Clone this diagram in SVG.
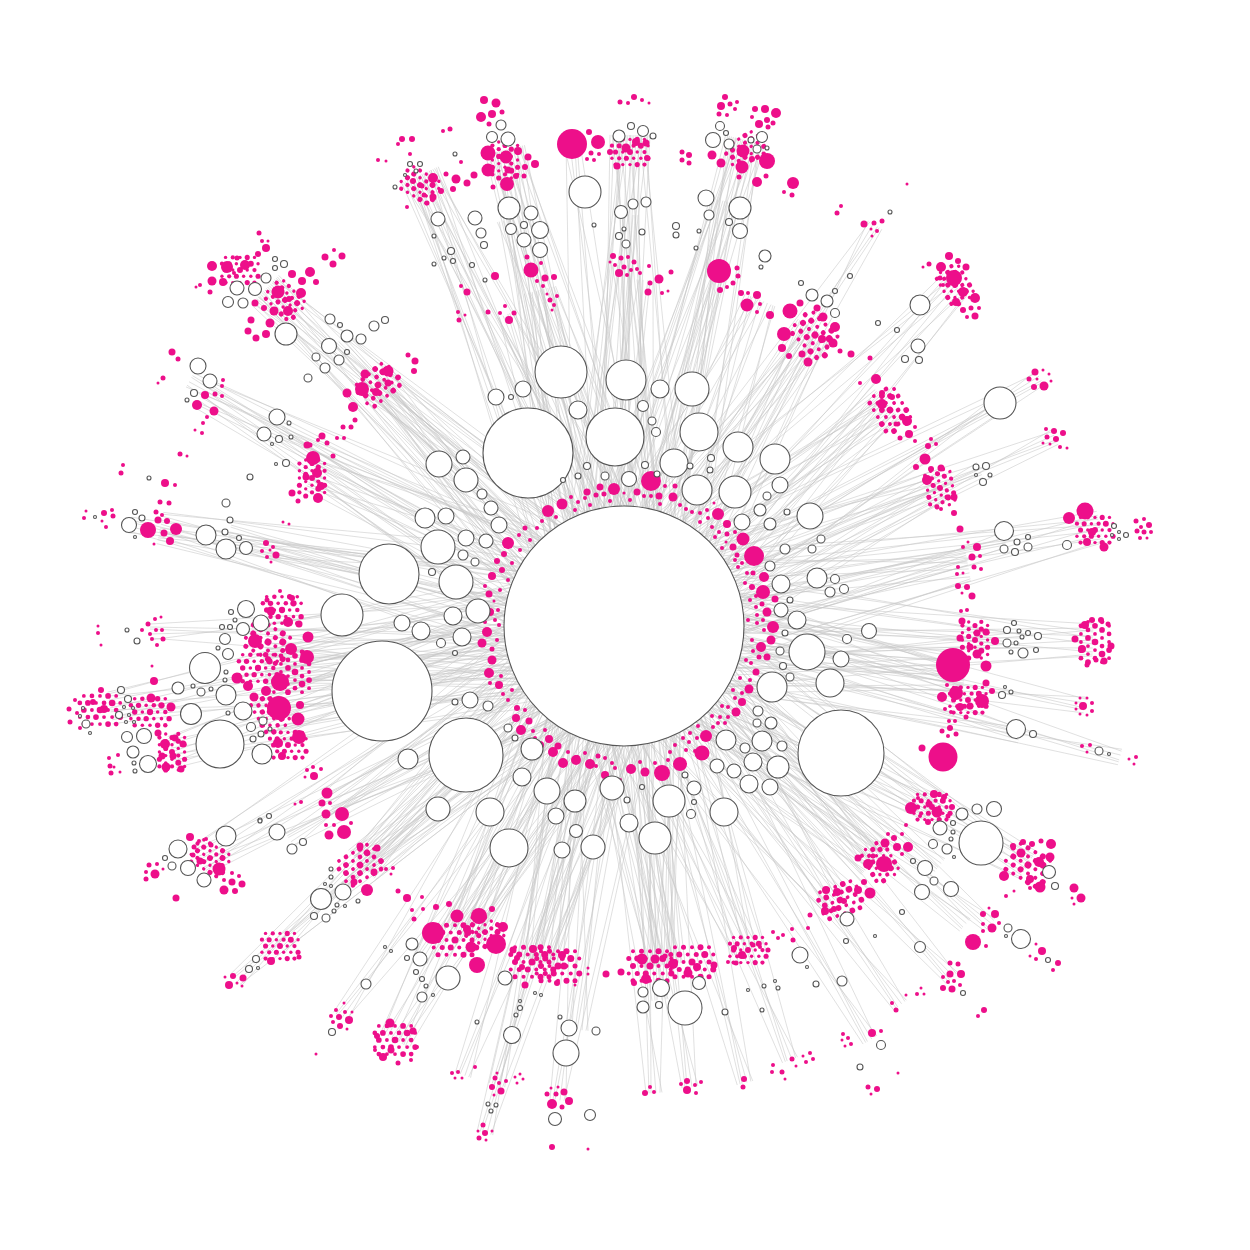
<svg xmlns="http://www.w3.org/2000/svg" xmlns:xlink="http://www.w3.org/1999/xlink" width="1250" height="1250" viewBox="0 0 1250 1250">
<style>
.p circle,.p{fill:#ED0F8A}
.w circle,.w{fill:#fff;stroke:#555;stroke-width:1.1}
.e{stroke:#b4b4b4;stroke-width:0.55;fill:none;opacity:0.75}
</style>
<defs>
<path id="f" vector-effect="non-scaling-stroke" d="M0,-16L100,-55M0,-12L100,18M0,-8L100,-20M0,-4L100,45M0,0L100,-38M0,4L100,5M0,8L100,60M0,12L100,-8M0,16L100,30M0,-14L100,-70M0,10L100,-45M0,2L100,70"/>
<path id="f2" vector-effect="non-scaling-stroke" d="M0,-18L100,35M0,-10L100,-62M0,-6L100,12M0,-2L100,-28M0,6L100,52M0,14L100,-15M0,18L100,-48M0,-20L100,0M0,20L100,22M0,-12L100,65M0,0L100,-5M0,9L100,38"/>
<path id="g" vector-effect="non-scaling-stroke" d="M0,-8L100,-30M0,-3L100,25M0,2L100,-5M0,6L100,50M0,-5L100,10M0,8L100,-50"/>
<g id="h" class="p">
<circle cx="-17" cy="-14.8" r="2"/><circle cx="-8.5" cy="-14.8" r="2.5"/><circle cx="0" cy="-14.8" r="2"/><circle cx="8.5" cy="-14.8" r="3"/><circle cx="17" cy="-14.8" r="2"/>
<circle cx="-21.25" cy="-7.4" r="2.5"/><circle cx="-12.75" cy="-7.4" r="3"/><circle cx="-4.25" cy="-7.4" r="2"/><circle cx="4.25" cy="-7.4" r="2.5"/><circle cx="12.75" cy="-7.4" r="3.5"/><circle cx="21.25" cy="-7.4" r="2"/>
<circle cx="-17" cy="0" r="3"/><circle cx="-8.5" cy="0" r="2"/><circle cx="0" cy="0" r="3.5"/><circle cx="8.5" cy="0" r="2"/><circle cx="17" cy="0" r="2.5"/>
<circle cx="-21.25" cy="7.4" r="2"/><circle cx="-12.75" cy="7.4" r="2.5"/><circle cx="-4.25" cy="7.4" r="3"/><circle cx="4.25" cy="7.4" r="2"/><circle cx="12.75" cy="7.4" r="2"/><circle cx="21.25" cy="7.4" r="3"/>
<circle cx="-17" cy="14.8" r="2.5"/><circle cx="-8.5" cy="14.8" r="2"/><circle cx="0" cy="14.8" r="2"/><circle cx="8.5" cy="14.8" r="3"/><circle cx="17" cy="14.8" r="2.5"/>
</g>
</defs>
<g id="connectors" class="e">
<use href="#f" transform="translate(505,150) rotate(75.96) scale(4.91,1)"/><use href="#f2" transform="translate(505,150) rotate(75.96) scale(4.91,1)"/>
<use href="#f" transform="translate(630,135) rotate(90.7) scale(4.91,1)"/><use href="#f2" transform="translate(630,135) rotate(90.7) scale(4.91,1)"/>
<use href="#f" transform="translate(745,140) rotate(104) scale(5.01,1)"/><use href="#f2" transform="translate(745,140) rotate(104) scale(5.01,1)"/>
<use href="#f" transform="translate(420,175) rotate(65.7) scale(4.95,1)"/><use href="#f2" transform="translate(420,175) rotate(65.7) scale(4.95,1)"/>
<use href="#f" transform="translate(265,290) rotate(43.1) scale(4.92,1)"/><use href="#f2" transform="translate(265,290) rotate(43.1) scale(4.92,1)"/>
<use href="#f" transform="translate(378,385) rotate(44.4) scale(3.44,1)"/><use href="#f2" transform="translate(378,385) rotate(44.4) scale(3.44,1)"/>
<use href="#f" transform="translate(312,475) rotate(25.8) scale(3.47,1)"/>
<use href="#f" transform="translate(205,395) rotate(28.9) scale(4.78,1)"/>
<use href="#f" transform="translate(815,330) rotate(122.8) scale(3.52,1)"/><use href="#f2" transform="translate(815,330) rotate(122.8) scale(3.52,1)"/>
<use href="#f" transform="translate(888,405) rotate(140.1) scale(3.44,1)"/><use href="#f2" transform="translate(888,405) rotate(140.1) scale(3.44,1)"/>
<use href="#f" transform="translate(955,285) rotate(134.1) scale(4.75,1)"/>
<use href="#f" transform="translate(940,485) rotate(156) scale(3.46,1)"/>
<use href="#g" transform="translate(1040,378) rotate(149.2) scale(4.84,1)"/>
<use href="#g" transform="translate(1055,437) rotate(156.3) scale(4.71,1)"/>
<use href="#f" transform="translate(1100,527) rotate(168.3) scale(4.86,1)"/>
<use href="#f" transform="translate(968,565) rotate(169.9) scale(3.49,1)"/>
<use href="#f" transform="translate(1093,640) rotate(-178.3) scale(4.69,1)"/>
<use href="#f" transform="translate(965,675) rotate(-171.8) scale(3.45,1)"/><use href="#f2" transform="translate(965,675) rotate(-171.8) scale(3.45,1)"/>
<use href="#g" transform="translate(1085,705) rotate(-170.3) scale(4.68,1)"/>
<use href="#f" transform="translate(1028,865) rotate(-149.4) scale(4.69,1)"/>
<use href="#f" transform="translate(932,806) rotate(-149.7) scale(3.57,1)"/>
<use href="#f" transform="translate(875,860) rotate(-137) scale(3.43,1)"/><use href="#f2" transform="translate(875,860) rotate(-137) scale(3.43,1)"/>
<use href="#f" transform="translate(835,900) rotate(-127.6) scale(3.46,1)"/>
<use href="#g" transform="translate(990,925) rotate(-140.8) scale(4.73,1)"/>
<use href="#g" transform="translate(952,978) rotate(-133) scale(4.81,1)"/>
<use href="#f" transform="translate(748,950) rotate(-110.9) scale(3.47,1)"/>
<use href="#f" transform="translate(665,965) rotate(-96.9) scale(3.41,1)"/><use href="#f2" transform="translate(665,965) rotate(-96.9) scale(3.41,1)"/>
<use href="#f" transform="translate(540,962) rotate(-76) scale(3.46,1)"/><use href="#f2" transform="translate(540,962) rotate(-76) scale(3.46,1)"/>
<use href="#f" transform="translate(465,935) rotate(-62.8) scale(3.48,1)"/><use href="#f2" transform="translate(465,935) rotate(-62.8) scale(3.48,1)"/>
<use href="#f" transform="translate(362,865) rotate(-42.4) scale(3.55,1)"/><use href="#f2" transform="translate(362,865) rotate(-42.4) scale(3.55,1)"/>
<use href="#f" transform="translate(330,805) rotate(-31.3) scale(3.44,1)"/>
<use href="#g" transform="translate(280,946) rotate(-42.9) scale(4.7,1)"/>
<use href="#f" transform="translate(395,1040) rotate(-61.05) scale(4.73,1)"/>
<use href="#g" transform="translate(340,1017) rotate(-54) scale(4.83,1)"/>
<use href="#g" transform="translate(236,980) rotate(-42.4) scale(5.25,1)"/>
<use href="#f" transform="translate(200,860) rotate(-28.9) scale(4.84,1)"/>
<use href="#f" transform="translate(265,675) rotate(-7.8) scale(3.62,1)"/><use href="#f2" transform="translate(265,675) rotate(-7.8) scale(3.62,1)"/>
<use href="#f" transform="translate(265,640) rotate(-2.2) scale(3.59,1)"/><use href="#f2" transform="translate(275,720) rotate(-15.1) scale(3.61,1)"/>
<use href="#f" transform="translate(172,752) rotate(-15.6) scale(4.69,1)"/>
<use href="#f" transform="translate(110,708) rotate(-9.1) scale(5.2,1)"/>
<use href="#g" transform="translate(150,632) rotate(-0.7) scale(4.74,1)"/>
<use href="#f" transform="translate(160,528) rotate(11.9) scale(4.74,1)"/>
<use href="#g" transform="translate(270,550) rotate(12.1) scale(3.62,1)"/>
<use href="#g" transform="translate(497,1085) rotate(-74.5) scale(4.76,1)"/>
<use href="#g" transform="translate(558,1100) rotate(-82.1) scale(4.79,1)"/>
<use href="#g" transform="translate(485,1133) rotate(-74.7) scale(5.26,1)"/>
<use href="#g" transform="translate(690,1087) rotate(-98.1) scale(4.66,1)"/>
<use href="#g" transform="translate(645,280) rotate(93.5) scale(3.47,1)"/>
<use href="#f" transform="translate(540,290) rotate(76) scale(3.46,1)"/>
<use href="#g" transform="translate(505,315) rotate(69.1) scale(3.33,1)"/>
<use href="#g" transform="translate(620,265) rotate(89.4) scale(3.61,1)"/>
<use href="#f" transform="translate(760,300) rotate(112.6) scale(3.53,1)"/>
<use href="#g" transform="translate(875,225) rotate(122) scale(4.73,1)"/>
<use href="#g" transform="translate(790,1060) rotate(-110.9) scale(4.65,1)"/>
<use href="#g" transform="translate(870,1040) rotate(-120.7) scale(4.82,1)"/>
<use href="#g" transform="translate(745,1083) rotate(-104.8) scale(4.73,1)"/>
<use href="#g" transform="translate(1000,403) rotate(149.3) scale(4.37,1)"/>
<use href="#g" transform="translate(572,144) rotate(83.8) scale(4.85,1)"/>
<use href="#g" transform="translate(720,271) rotate(105.1) scale(3.68,1)"/>
<use href="#g" transform="translate(654,1093) rotate(-93.7) scale(4.68,1)"/>
<use href="#g" transform="translate(463,1075) rotate(-70.3) scale(4.77,1)"/>
<use href="#g" transform="translate(1020,735) rotate(-165.3) scale(4.05,1)"/>
<use href="#g" transform="translate(1005,540) rotate(167.3) scale(3.91,1)"/>
<use href="#g" transform="translate(1020,640) rotate(-178) scale(3.96,1)"/>
<use href="#g" transform="translate(980,470) rotate(156.3) scale(3.89,1)"/>
<use href="#g" transform="translate(965,925) rotate(-138.8) scale(4.54,1)"/>
<use href="#g" transform="translate(900,1005) rotate(-126.1) scale(4.69,1)"/>
<use href="#g" transform="translate(1120,757) rotate(-165.2) scale(5.13,1)"/>
<use href="#g" transform="translate(130,525) rotate(11.6) scale(5.04,1)"/>
<use href="#g" transform="translate(230,530) rotate(13.7) scale(4.06,1)"/>
<use href="#g" transform="translate(340,340) rotate(45.2) scale(4.03,1)"/>
<use href="#g" transform="translate(190,380) rotate(29.5) scale(4.99,1)"/>
<use href="#g" transform="translate(280,430) rotate(29.7) scale(3.96,1)"/>
<use href="#g" transform="translate(580,1030) rotate(-83.8) scale(4.06,1)"/>
<use href="#g" transform="translate(660,1000) rotate(-95.5) scale(3.76,1)"/>
<use href="#g" transform="translate(420,960) rotate(-58.6) scale(3.91,1)"/>
<use href="#g" transform="translate(940,865) rotate(-142.9) scale(3.96,1)"/>
<use href="#g" transform="translate(290,840) rotate(-32.6) scale(3.97,1)"/>
<use href="#g" transform="translate(330,900) rotate(-43) scale(4.02,1)"/>
<use href="#g" transform="translate(720,200) rotate(102.7) scale(4.37,1)"/>
<use href="#g" transform="translate(505,220) rotate(73.7) scale(4.23,1)"/>
<use href="#g" transform="translate(630,215) rotate(90.8) scale(4.11,1)"/>
</g>
<g id="clusters">
<use href="#h" transform="translate(282,610) scale(.9)"/><use href="#h" transform="translate(268,642) rotate(30)"/><use href="#h" transform="translate(295,672) rotate(90) scale(.95)"/><use href="#h" transform="translate(258,668) scale(.9)"/><use href="#h" transform="translate(270,712) rotate(60) scale(.9)"/><use href="#h" transform="translate(288,745) scale(.85)"/>
<use href="#h" transform="translate(100,710) scale(.95)"/><use href="#h" transform="translate(150,712) scale(.9)"/><use href="#h" transform="translate(172,752) rotate(90) scale(.85)"/>
<use href="#h" transform="translate(285,300) rotate(45) scale(.85)"/><use href="#h" transform="translate(240,270) scale(.85)"/>
<use href="#h" transform="translate(505,160) rotate(90) scale(.85)"/><use href="#h" transform="translate(745,150) rotate(-30) scale(.85)"/><use href="#h" transform="translate(420,185) rotate(30) scale(.85)"/>
<use href="#h" transform="translate(815,335) rotate(45)"/><use href="#h" transform="translate(890,410) rotate(60) scale(.95)"/><use href="#h" transform="translate(955,285) rotate(60) scale(.85)"/><use href="#h" transform="translate(940,488) rotate(80) scale(.85)"/>
<use href="#h" transform="translate(1095,530) scale(.85)"/><use href="#h" transform="translate(1095,642) rotate(90) scale(.95)"/><use href="#h" transform="translate(975,640) rotate(90) scale(.85)"/><use href="#h" transform="translate(968,700) scale(.85)"/>
<use href="#h" transform="translate(1028,865) rotate(30)"/><use href="#h" transform="translate(932,807) scale(.85)"/><use href="#h" transform="translate(840,900) rotate(-20) scale(.95)"/><use href="#h" transform="translate(880,862) rotate(60) scale(.85)"/>
<use href="#h" transform="translate(748,950) scale(.85)"/><use href="#h" transform="translate(650,966)"/><use href="#h" transform="translate(692,962)"/><use href="#h" transform="translate(532,962)"/><use href="#h" transform="translate(558,966)"/>
<use href="#h" transform="translate(455,940)"/><use href="#h" transform="translate(485,932) rotate(30) scale(.85)"/><use href="#h" transform="translate(360,865) rotate(-30) scale(.95)"/><use href="#h" transform="translate(280,946) scale(.85)"/><use href="#h" transform="translate(395,1040) scale(.95)"/>
<use href="#h" transform="translate(378,385) rotate(-40) scale(.95)"/><use href="#h" transform="translate(312,478) rotate(90) scale(.85)"/><use href="#h" transform="translate(630,152) scale(.85)"/><use href="#h" transform="translate(210,858) rotate(30) scale(.85)"/>
</g>
<g id="pink-nodes" class="p">
<circle cx="212" cy="266" r="5"/><circle cx="227" cy="267" r="6"/><circle cx="245" cy="265" r="5"/><circle cx="212" cy="281" r="4.5"/><circle cx="223" cy="282" r="4"/><circle cx="278" cy="292" r="6.5"/><circle cx="301" cy="293" r="5"/><circle cx="310" cy="272" r="5"/><circle cx="292" cy="274" r="4"/><circle cx="302" cy="281" r="4"/><circle cx="316" cy="282" r="3"/><circle cx="288" cy="311" r="5"/><circle cx="274" cy="311" r="4.5"/><circle cx="270" cy="323" r="4.5"/><circle cx="251" cy="320" r="3.5"/><circle cx="266" cy="334" r="4"/><circle cx="256" cy="338" r="3.5"/><circle cx="248" cy="331" r="3.5"/><circle cx="255" cy="303" r="3.5"/><circle cx="264" cy="308" r="3"/><circle cx="289" cy="299" r="3"/><circle cx="259" cy="233" r="2.5"/><circle cx="266" cy="248" r="4"/><circle cx="258" cy="254" r="3"/><circle cx="237" cy="258" r="2.5"/><circle cx="325" cy="257" r="3.5"/><circle cx="333" cy="264" r="3.5"/><circle cx="342" cy="256" r="3.5"/><circle cx="334" cy="250" r="2"/><circle cx="262" cy="241" r="2"/><circle cx="268" cy="241" r="1.5"/><circle cx="200" cy="285" r="2"/><circle cx="196" cy="287" r="1.5"/><circle cx="210" cy="292" r="2.5"/><circle cx="234" cy="273" r="2"/>
<circle cx="402" cy="139" r="3"/><circle cx="412" cy="139" r="3"/><circle cx="378" cy="160" r="2"/><circle cx="386" cy="161" r="1.5"/><circle cx="413" cy="181" r="3"/><circle cx="422" cy="186" r="2.5"/><circle cx="424" cy="195" r="2.5"/><circle cx="427" cy="203" r="2.5"/><circle cx="407" cy="207" r="2"/><circle cx="433" cy="178" r="5"/><circle cx="441" cy="191" r="3"/><circle cx="456" cy="179" r="4.5"/><circle cx="467" cy="183" r="3.5"/><circle cx="474" cy="175" r="3.5"/><circle cx="461" cy="162" r="2"/><circle cx="453" cy="189" r="3"/><circle cx="433" cy="197" r="3.5"/><circle cx="443" cy="131" r="2"/><circle cx="450" cy="129" r="2.5"/><circle cx="398" cy="144" r="2"/><circle cx="410" cy="154" r="2"/><circle cx="446" cy="174" r="2.5"/>
<circle cx="484" cy="100" r="4"/><circle cx="496" cy="103" r="4.5"/><circle cx="481" cy="117" r="5"/><circle cx="492" cy="114" r="4"/><circle cx="502" cy="112" r="2.5"/><circle cx="489" cy="124" r="2.5"/><circle cx="488" cy="153" r="7.5"/><circle cx="506" cy="157" r="6.5"/><circle cx="488" cy="170" r="6.5"/><circle cx="507" cy="184" r="7"/><circle cx="518" cy="151" r="4"/><circle cx="528" cy="157" r="3.5"/><circle cx="535" cy="164" r="4"/><circle cx="525" cy="167" r="3"/><circle cx="508" cy="170" r="3.5"/><circle cx="516" cy="176" r="3"/><circle cx="524" cy="176" r="2.5"/><circle cx="493" cy="187" r="2.5"/>
<circle cx="572" cy="144" r="15"/><circle cx="598" cy="142" r="7"/><circle cx="589" cy="132" r="3"/><circle cx="591" cy="153" r="2.5"/><circle cx="587" cy="159" r="2"/><circle cx="594" cy="160" r="2"/><circle cx="599" cy="154" r="2"/>
<circle cx="634" cy="97" r="3"/><circle cx="620" cy="102" r="2.5"/><circle cx="628" cy="103" r="2"/><circle cx="642" cy="100" r="2"/><circle cx="649" cy="103" r="1.5"/><circle cx="626" cy="148" r="4.5"/><circle cx="636" cy="142" r="4"/><circle cx="646" cy="143" r="3.5"/><circle cx="610" cy="152" r="3"/><circle cx="647" cy="158" r="3"/><circle cx="617" cy="166" r="3.5"/>
<circle cx="682" cy="152" r="2.5"/><circle cx="689" cy="155" r="3"/><circle cx="682" cy="160" r="2.5"/><circle cx="689" cy="163" r="2.5"/>
<circle cx="725" cy="97" r="3"/><circle cx="721" cy="106" r="4"/><circle cx="730" cy="104" r="2.5"/><circle cx="737" cy="102" r="2"/><circle cx="735" cy="109" r="2"/><circle cx="719" cy="114" r="2.5"/><circle cx="727" cy="115" r="2"/><circle cx="755" cy="109" r="3"/><circle cx="765" cy="109" r="4"/><circle cx="776" cy="113" r="5"/><circle cx="752" cy="117" r="2"/><circle cx="767" cy="120" r="3"/><circle cx="759" cy="124" r="4"/><circle cx="773" cy="123" r="2.5"/><circle cx="768" cy="127" r="2.5"/><circle cx="743" cy="151" r="6.5"/><circle cx="752" cy="159" r="3"/><circle cx="767" cy="161" r="8"/><circle cx="742" cy="167" r="6.5"/><circle cx="757" cy="182" r="5"/><circle cx="712" cy="155" r="4.5"/><circle cx="721" cy="163" r="4.5"/><circle cx="739" cy="177" r="2.5"/><circle cx="766" cy="176" r="2.5"/><circle cx="793" cy="183" r="6"/><circle cx="792" cy="195" r="2.5"/><circle cx="784" cy="192" r="2"/>
<circle cx="531" cy="270" r="7.5"/><circle cx="527" cy="257" r="2.5"/><circle cx="541" cy="263" r="2"/><circle cx="545" cy="278" r="3.5"/><circle cx="554" cy="277" r="3"/><circle cx="537" cy="281" r="2"/><circle cx="543" cy="286" r="2"/><circle cx="495" cy="276" r="4"/><circle cx="550" cy="300" r="2.5"/><circle cx="557" cy="296" r="2"/><circle cx="554" cy="305" r="2"/><circle cx="547" cy="294" r="1.5"/><circle cx="552" cy="310" r="1.5"/><circle cx="467" cy="292" r="3.5"/><circle cx="461" cy="286" r="2"/><circle cx="458" cy="312" r="2"/><circle cx="459" cy="320" r="2.5"/><circle cx="465" cy="315" r="1.5"/><circle cx="509" cy="320" r="4"/><circle cx="500" cy="313" r="2"/><circle cx="488" cy="312" r="2.5"/><circle cx="514" cy="313" r="2.5"/><circle cx="505" cy="306" r="2"/>
<circle cx="613" cy="256" r="3"/><circle cx="619" cy="273" r="4"/><circle cx="621" cy="258" r="2.5"/><circle cx="628" cy="257" r="2"/><circle cx="634" cy="262" r="2.5"/><circle cx="615" cy="265" r="2"/><circle cx="624" cy="267" r="2.5"/><circle cx="631" cy="270" r="2"/><circle cx="637" cy="269" r="2"/><circle cx="627" cy="275" r="2"/><circle cx="610" cy="262" r="1.5"/>
<circle cx="648" cy="292" r="3.5"/><circle cx="659" cy="279" r="4.5"/><circle cx="650" cy="283" r="2.5"/><circle cx="671" cy="272" r="2.5"/><circle cx="662" cy="293" r="2"/><circle cx="668" cy="291" r="1.5"/><circle cx="649" cy="266" r="2"/><circle cx="640" cy="273" r="2"/>
<circle cx="719" cy="271" r="12"/><circle cx="737" cy="268" r="2.5"/><circle cx="738" cy="276" r="2.5"/><circle cx="720" cy="290" r="3"/><circle cx="727" cy="287" r="2"/><circle cx="733" cy="283" r="2.5"/><circle cx="741" cy="293" r="3"/><circle cx="748" cy="293" r="2"/><circle cx="757" cy="295" r="4"/><circle cx="747" cy="305" r="6.5"/><circle cx="760" cy="304" r="2"/><circle cx="757" cy="312" r="2"/>
<circle cx="790" cy="311" r="7.5"/><circle cx="784" cy="334" r="7"/><circle cx="770" cy="315" r="4"/><circle cx="782" cy="348" r="4"/><circle cx="789" cy="356" r="3"/><circle cx="800" cy="303" r="3.5"/><circle cx="817" cy="308" r="3.5"/><circle cx="823" cy="317" r="4.5"/><circle cx="835" cy="327" r="5"/><circle cx="822" cy="339" r="4"/><circle cx="833" cy="343" r="4.5"/><circle cx="802" cy="354" r="3.5"/><circle cx="808" cy="362" r="4.5"/><circle cx="851" cy="354" r="3.5"/><circle cx="840" cy="351" r="2.5"/><circle cx="870" cy="358" r="2.5"/>
<circle cx="837" cy="213" r="2.5"/><circle cx="841" cy="206" r="2"/><circle cx="864" cy="224" r="3.5"/><circle cx="874" cy="223" r="2.5"/><circle cx="882" cy="221" r="2.5"/><circle cx="877" cy="231" r="2"/><circle cx="871" cy="229" r="1.5"/><circle cx="872" cy="236" r="1.5"/><circle cx="907" cy="184" r="1.5"/>
<circle cx="876" cy="379" r="5"/><circle cx="882" cy="393" r="3"/><circle cx="882" cy="404" r="5"/><circle cx="892" cy="397" r="3"/><circle cx="907" cy="421" r="5"/><circle cx="909" cy="434" r="4"/><circle cx="896" cy="424" r="2.5"/><circle cx="900" cy="438" r="2.5"/><circle cx="915" cy="427" r="2"/><circle cx="915" cy="441" r="2"/><circle cx="860" cy="383" r="2"/><circle cx="928" cy="446" r="3"/><circle cx="936" cy="444" r="2"/><circle cx="931" cy="439" r="2"/>
<circle cx="949" cy="256" r="4"/><circle cx="958" cy="261" r="3"/><circle cx="966" cy="267" r="3.5"/><circle cx="941" cy="267" r="5"/><circle cx="954" cy="278" r="8"/><circle cx="929" cy="264" r="2.5"/><circle cx="923" cy="267" r="1.5"/><circle cx="940" cy="278" r="2.5"/><circle cx="943" cy="285" r="2"/><circle cx="963" cy="292" r="5"/><circle cx="975" cy="298" r="5"/><circle cx="956" cy="302" r="4"/><circle cx="963" cy="310" r="3"/><circle cx="971" cy="308" r="2.5"/><circle cx="979" cy="308" r="2"/><circle cx="975" cy="316" r="3.5"/><circle cx="967" cy="317" r="2"/>
<circle cx="1035" cy="372" r="3.5"/><circle cx="1044" cy="386" r="4.5"/><circle cx="1029" cy="379" r="2.5"/><circle cx="1043" cy="370" r="1.5"/><circle cx="1049" cy="374" r="1.5"/><circle cx="1037" cy="379" r="1.5"/><circle cx="1034" cy="387" r="3"/><circle cx="1051" cy="381" r="1.5"/>
<circle cx="1046" cy="429" r="2"/><circle cx="1054" cy="431" r="3"/><circle cx="1063" cy="433" r="3"/><circle cx="1047" cy="437" r="2.5"/><circle cx="1056" cy="439" r="3"/><circle cx="1043" cy="443" r="1.5"/><circle cx="1050" cy="444" r="1.5"/><circle cx="1060" cy="447" r="2"/><circle cx="1067" cy="448" r="1.5"/>
<circle cx="925" cy="459" r="5.5"/><circle cx="916" cy="467" r="3"/><circle cx="931" cy="469" r="3"/><circle cx="941" cy="468" r="3.5"/><circle cx="927" cy="480" r="5"/><circle cx="954" cy="497" r="3.5"/><circle cx="947" cy="497" r="2.5"/><circle cx="954" cy="513" r="3"/><circle cx="941" cy="509" r="2"/>
<circle cx="960" cy="529" r="3.5"/><circle cx="977" cy="547" r="4"/><circle cx="963" cy="547" r="2"/><circle cx="968" cy="542" r="1.5"/><circle cx="972" cy="557" r="3.5"/><circle cx="980" cy="556" r="2"/><circle cx="974" cy="567" r="2.5"/><circle cx="981" cy="569" r="2"/><circle cx="958" cy="567" r="2"/><circle cx="957" cy="574" r="2"/><circle cx="963" cy="573" r="1.5"/><circle cx="958" cy="586" r="3"/><circle cx="967" cy="587" r="3"/><circle cx="972" cy="596" r="3.5"/><circle cx="962" cy="593" r="1.5"/>
<circle cx="1069" cy="518" r="6"/><circle cx="1085" cy="511" r="8.5"/><circle cx="1087" cy="542" r="4"/><circle cx="1104" cy="547" r="4.5"/><circle cx="1092" cy="532" r="4"/><circle cx="1136" cy="521" r="2.5"/><circle cx="1144" cy="519" r="2"/><circle cx="1149" cy="525" r="3"/><circle cx="1137" cy="531" r="2.5"/><circle cx="1144" cy="532" r="2.5"/><circle cx="1151" cy="532" r="2"/><circle cx="1140" cy="538" r="2"/><circle cx="1147" cy="538" r="1.5"/><circle cx="1141" cy="527" r="2"/>
<circle cx="961" cy="611" r="2"/><circle cx="967" cy="610" r="2"/><circle cx="962" cy="621" r="3.5"/><circle cx="977" cy="633" r="3.5"/><circle cx="986" cy="632" r="3.5"/><circle cx="960" cy="638" r="3.5"/><circle cx="995" cy="641" r="4"/><circle cx="970" cy="647" r="3.5"/><circle cx="977" cy="654" r="4.5"/><circle cx="953" cy="665" r="17"/><circle cx="986" cy="666" r="5.5"/><circle cx="986" cy="683" r="3.5"/><circle cx="992" cy="691" r="3"/><circle cx="956" cy="693" r="7"/><circle cx="942" cy="697" r="5"/><circle cx="982" cy="701" r="7"/><circle cx="970" cy="706" r="3.5"/><circle cx="960" cy="707" r="4"/><circle cx="966" cy="717" r="2.5"/><circle cx="951" cy="712" r="2"/><circle cx="945" cy="709" r="2"/><circle cx="947" cy="685" r="2"/><circle cx="949" cy="721" r="2"/><circle cx="955" cy="721" r="2"/><circle cx="950" cy="728" r="3"/><circle cx="942" cy="731" r="2.5"/><circle cx="956" cy="734" r="2.5"/><circle cx="948" cy="736" r="2"/><circle cx="943" cy="757" r="14.5"/><circle cx="922" cy="748" r="3.5"/>
<circle cx="1075" cy="639" r="3.5"/><circle cx="1085" cy="625" r="4"/><circle cx="1092" cy="620" r="3"/><circle cx="1101" cy="620" r="3"/><circle cx="1108" cy="624" r="2.5"/><circle cx="1111" cy="646" r="3.5"/><circle cx="1104" cy="661" r="3.5"/><circle cx="1096" cy="660" r="2.5"/><circle cx="1087" cy="665" r="2.5"/><circle cx="1082" cy="649" r="4"/>
<circle cx="1083" cy="706" r="4"/><circle cx="1080" cy="698" r="1.5"/><circle cx="1087" cy="698" r="1.5"/><circle cx="1092" cy="703" r="2"/><circle cx="1076" cy="703" r="1.5"/><circle cx="1092" cy="711" r="2"/><circle cx="1080" cy="714" r="1.5"/><circle cx="1087" cy="715" r="1.5"/><circle cx="1076" cy="709" r="1.5"/>
<circle cx="1082" cy="746" r="2"/><circle cx="1090" cy="745" r="2"/><circle cx="1087" cy="752" r="1.5"/><circle cx="1129" cy="759" r="1.5"/><circle cx="1136" cy="757" r="2"/><circle cx="1134" cy="764" r="1.5"/>
<circle cx="911" cy="808" r="6"/><circle cx="918" cy="798" r="2"/><circle cx="929" cy="804" r="3.5"/><circle cx="934" cy="794" r="4"/><circle cx="944" cy="797" r="3"/><circle cx="937" cy="812" r="5.5"/><circle cx="952" cy="807" r="3"/><circle cx="920" cy="816" r="2"/><circle cx="948" cy="816" r="2.5"/>
<circle cx="884" cy="864" r="8"/><circle cx="868" cy="864" r="5"/><circle cx="858" cy="858" r="3.5"/><circle cx="873" cy="856" r="2.5"/><circle cx="864" cy="882" r="3"/><circle cx="870" cy="893" r="5.5"/><circle cx="858" cy="890" r="4"/><circle cx="844" cy="901" r="3"/><circle cx="837" cy="892" r="4"/><circle cx="826" cy="890" r="4"/><circle cx="825" cy="911" r="4"/><circle cx="834" cy="909" r="3"/><circle cx="810" cy="915" r="2.5"/><circle cx="808" cy="928" r="2"/><circle cx="885" cy="843" r="4.5"/><circle cx="897" cy="847" r="4"/><circle cx="908" cy="847" r="5"/><circle cx="894" cy="838" r="3"/><circle cx="902" cy="834" r="2"/><circle cx="888" cy="834" r="2"/><circle cx="902" cy="854" r="2"/><circle cx="906" cy="825" r="2"/><circle cx="928" cy="822" r="3"/>
<circle cx="1021" cy="853" r="4.5"/><circle cx="1039" cy="862" r="5"/><circle cx="1050" cy="857" r="4.5"/><circle cx="1051" cy="844" r="5"/><circle cx="1040" cy="887" r="5.5"/><circle cx="1004" cy="876" r="5"/><circle cx="1030" cy="879" r="4"/><circle cx="1013" cy="846" r="3"/><circle cx="1023" cy="842" r="3"/><circle cx="1032" cy="844" r="3"/><circle cx="1041" cy="841" r="2.5"/><circle cx="1006" cy="896" r="2"/><circle cx="1014" cy="891" r="1.5"/><circle cx="1030" cy="888" r="2"/>
<circle cx="1074" cy="888" r="4.5"/><circle cx="1081" cy="898" r="4.5"/><circle cx="1072" cy="898" r="1.5"/><circle cx="1074" cy="904" r="1.5"/>
<circle cx="983" cy="914" r="3"/><circle cx="995" cy="914" r="4"/><circle cx="992" cy="928" r="4.5"/><circle cx="989" cy="908" r="1.5"/><circle cx="983" cy="924" r="2"/><circle cx="999" cy="923" r="2"/><circle cx="983" cy="931" r="2"/><circle cx="973" cy="942" r="8"/><circle cx="986" cy="946" r="2"/>
<circle cx="1036" cy="944" r="1.5"/><circle cx="1042" cy="951" r="4"/><circle cx="1030" cy="956" r="1.5"/><circle cx="1036" cy="959" r="2"/><circle cx="1058" cy="963" r="3"/><circle cx="1053" cy="970" r="2"/>
<circle cx="950" cy="963" r="2.5"/><circle cx="958" cy="964" r="2.5"/><circle cx="950" cy="974" r="3.5"/><circle cx="961" cy="974" r="4"/><circle cx="943" cy="977" r="2"/><circle cx="948" cy="982" r="2"/><circle cx="954" cy="981" r="2"/><circle cx="960" cy="985" r="2"/><circle cx="943" cy="988" r="3"/><circle cx="952" cy="989" r="3.5"/><circle cx="984" cy="1010" r="3"/><circle cx="978" cy="1016" r="2"/>
<circle cx="921" cy="988" r="1.5"/><circle cx="917" cy="994" r="2"/><circle cx="924" cy="994" r="1.5"/><circle cx="906" cy="995" r="1.5"/><circle cx="892" cy="1003" r="2"/><circle cx="896" cy="1010" r="2.5"/>
<circle cx="872" cy="1033" r="4"/><circle cx="881" cy="1031" r="2"/><circle cx="843" cy="1034" r="2"/><circle cx="848" cy="1038" r="2"/><circle cx="842" cy="1040" r="1.5"/><circle cx="851" cy="1044" r="2"/><circle cx="845" cy="1046" r="1.5"/><circle cx="898" cy="1073" r="1.5"/><circle cx="868" cy="1087" r="2.5"/><circle cx="877" cy="1089" r="3"/><circle cx="871" cy="1094" r="1.5"/>
<circle cx="810" cy="1053" r="2"/><circle cx="803" cy="1056" r="1.5"/><circle cx="813" cy="1059" r="2"/><circle cx="806" cy="1062" r="2"/>
<circle cx="792" cy="1059" r="2.5"/><circle cx="773" cy="1065" r="2"/><circle cx="772" cy="1072" r="2"/><circle cx="782" cy="1072" r="2.5"/><circle cx="785" cy="1079" r="1.5"/><circle cx="796" cy="1066" r="1.5"/><circle cx="744" cy="1079" r="3"/><circle cx="743" cy="1087" r="2.5"/>
<circle cx="645" cy="1093" r="3"/><circle cx="650" cy="1087" r="2"/><circle cx="654" cy="1092" r="2"/><circle cx="687" cy="1090" r="4"/><circle cx="687" cy="1081" r="3"/><circle cx="681" cy="1084" r="2"/><circle cx="695" cy="1085" r="2"/><circle cx="701" cy="1082" r="2"/><circle cx="696" cy="1093" r="2"/>
<circle cx="742" cy="955" r="4"/><circle cx="734" cy="948" r="3"/><circle cx="753" cy="945" r="2.5"/><circle cx="760" cy="947" r="2"/><circle cx="768" cy="950" r="2.5"/><circle cx="728" cy="962" r="2"/><circle cx="736" cy="963" r="2.5"/>
<circle cx="773" cy="932" r="2"/><circle cx="783" cy="935" r="2"/><circle cx="792" cy="929" r="2"/><circle cx="793" cy="940" r="2.5"/><circle cx="778" cy="938" r="2"/>
<circle cx="642" cy="959" r="5.5"/><circle cx="655" cy="959" r="4.5"/><circle cx="673" cy="964" r="5"/><circle cx="688" cy="973" r="4.5"/><circle cx="646" cy="979" r="5"/><circle cx="697" cy="967" r="4"/><circle cx="621" cy="972" r="3.5"/><circle cx="714" cy="965" r="3.5"/><circle cx="634" cy="983" r="3"/><circle cx="665" cy="956" r="2.5"/><circle cx="606" cy="974" r="3.5"/><circle cx="588" cy="968" r="1.5"/><circle cx="588" cy="974" r="1.5"/><circle cx="575" cy="985" r="1.5"/>
<circle cx="533" cy="949" r="4"/><circle cx="562" cy="955" r="4"/><circle cx="525" cy="985" r="3.5"/><circle cx="557" cy="983" r="3"/><circle cx="513" cy="950" r="3.5"/><circle cx="517" cy="958" r="3"/><circle cx="522" cy="967" r="3"/><circle cx="564" cy="966" r="3.5"/>
<circle cx="433" cy="933" r="11"/><circle cx="457" cy="916" r="6.5"/><circle cx="479" cy="916" r="8"/><circle cx="496" cy="944" r="10"/><circle cx="477" cy="965" r="8"/><circle cx="471" cy="947" r="5.5"/><circle cx="503" cy="927" r="5"/><circle cx="467" cy="929" r="4"/><circle cx="492" cy="909" r="3"/><circle cx="449" cy="904" r="3"/><circle cx="436" cy="907" r="3"/><circle cx="414" cy="919" r="2.5"/><circle cx="423" cy="909" r="2"/><circle cx="412" cy="910" r="2"/><circle cx="422" cy="897" r="2"/><circle cx="398" cy="891" r="2.5"/><circle cx="407" cy="898" r="4"/>
<circle cx="552" cy="1147" r="3"/><circle cx="588" cy="1149" r="1.5"/><circle cx="492" cy="1087" r="3"/><circle cx="501" cy="1091" r="3.5"/><circle cx="495" cy="1078" r="2.5"/><circle cx="499" cy="1083" r="2"/><circle cx="506" cy="1081" r="2"/><circle cx="497" cy="1073" r="1.5"/><circle cx="494" cy="1095" r="1.5"/><circle cx="483" cy="1125" r="2.5"/><circle cx="478" cy="1131" r="1.5"/><circle cx="485" cy="1133" r="3"/><circle cx="492" cy="1131" r="1.5"/><circle cx="479" cy="1138" r="2.5"/><circle cx="486" cy="1140" r="1.5"/>
<circle cx="552" cy="1104" r="5"/><circle cx="547" cy="1094" r="2.5"/><circle cx="556" cy="1094" r="2.5"/><circle cx="564" cy="1092" r="3.5"/><circle cx="569" cy="1101" r="4"/><circle cx="562" cy="1107" r="2.5"/><circle cx="551" cy="1088" r="1.5"/><circle cx="558" cy="1087" r="1.5"/>
<circle cx="452" cy="1073" r="2"/><circle cx="458" cy="1072" r="2"/><circle cx="455" cy="1078" r="1.5"/><circle cx="462" cy="1078" r="1.5"/><circle cx="475" cy="1067" r="2"/><circle cx="515" cy="1077" r="1.5"/><circle cx="520" cy="1074" r="1.5"/><circle cx="517" cy="1083" r="1.5"/><circle cx="523" cy="1079" r="1.5"/>
<circle cx="390" cy="1023" r="4.5"/><circle cx="413" cy="1031" r="3.5"/><circle cx="383" cy="1057" r="4"/><circle cx="391" cy="1050" r="3.5"/><circle cx="377" cy="1036" r="3"/><circle cx="375" cy="1050" r="2"/><circle cx="398" cy="1063" r="2.5"/><circle cx="411" cy="1060" r="2"/><circle cx="417" cy="1047" r="2"/><circle cx="316" cy="1054" r="1.5"/>
<circle cx="339" cy="1017" r="3"/><circle cx="349" cy="1020" r="4"/><circle cx="340" cy="1026" r="3"/><circle cx="331" cy="1016" r="2"/><circle cx="336" cy="1010" r="2"/><circle cx="345" cy="1012" r="2"/><circle cx="333" cy="1022" r="2"/><circle cx="352" cy="1012" r="1.5"/><circle cx="347" cy="1029" r="1.5"/><circle cx="344" cy="1003" r="1.5"/>
<circle cx="271" cy="961" r="4"/><circle cx="299" cy="957" r="2.5"/><circle cx="233" cy="976" r="3"/><circle cx="243" cy="978" r="3.5"/><circle cx="225" cy="977" r="1.5"/><circle cx="229" cy="985" r="4"/><circle cx="237" cy="983" r="1.5"/><circle cx="242" cy="986" r="1.5"/>
<circle cx="374" cy="872" r="3.5"/><circle cx="354" cy="882" r="3.5"/><circle cx="367" cy="890" r="6"/><circle cx="386" cy="869" r="2"/><circle cx="393" cy="868" r="2"/><circle cx="391" cy="874" r="1.5"/><circle cx="360" cy="846" r="3.5"/><circle cx="377" cy="848" r="3.5"/>
<circle cx="329" cy="835" r="4.5"/><circle cx="344" cy="832" r="7"/><circle cx="326" cy="825" r="2"/><circle cx="334" cy="825" r="2"/><circle cx="351" cy="823" r="2"/><circle cx="327" cy="793" r="5.5"/><circle cx="322" cy="803" r="3.5"/><circle cx="330" cy="803" r="2"/><circle cx="326" cy="814" r="4.5"/><circle cx="342" cy="814" r="7"/><circle cx="295" cy="804" r="1.5"/><circle cx="301" cy="802" r="2"/><circle cx="314" cy="776" r="4"/><circle cx="307" cy="770" r="2"/><circle cx="313" cy="767" r="2"/><circle cx="321" cy="769" r="2"/><circle cx="305" cy="777" r="1.5"/>
<circle cx="190" cy="837" r="4"/><circle cx="199" cy="841" r="2"/><circle cx="206" cy="839" r="2"/><circle cx="194" cy="847" r="2.5"/><circle cx="211" cy="845" r="2.5"/><circle cx="193" cy="855" r="2.5"/><circle cx="200" cy="861" r="3.5"/><circle cx="219" cy="869" r="6.5"/><circle cx="232" cy="873" r="2"/><circle cx="239" cy="876" r="2"/><circle cx="232" cy="882" r="3.5"/><circle cx="242" cy="884" r="3.5"/><circle cx="224" cy="880" r="2"/><circle cx="224" cy="890" r="4.5"/><circle cx="235" cy="891" r="3"/><circle cx="149" cy="865" r="2.5"/><circle cx="157" cy="864" r="2"/><circle cx="163" cy="869" r="1.5"/><circle cx="155" cy="874" r="4.5"/><circle cx="146" cy="872" r="2"/><circle cx="146" cy="879" r="2.5"/><circle cx="176" cy="898" r="3.5"/>
<circle cx="165" cy="744" r="5"/><circle cx="175" cy="738" r="3.5"/><circle cx="158" cy="733" r="3.5"/><circle cx="183" cy="744" r="3.5"/><circle cx="162" cy="756" r="3.5"/><circle cx="173" cy="756" r="3.5"/><circle cx="166" cy="767" r="4.5"/><circle cx="181" cy="769" r="3.5"/><circle cx="110" cy="766" r="2.5"/><circle cx="111" cy="773" r="2.5"/><circle cx="118" cy="755" r="2"/><circle cx="114" cy="767" r="1.5"/><circle cx="120" cy="772" r="1.5"/><circle cx="109" cy="758" r="2"/>
<circle cx="101" cy="690" r="3"/><circle cx="104" cy="709" r="4"/><circle cx="93" cy="702" r="3"/><circle cx="151" cy="698" r="4.5"/><circle cx="171" cy="707" r="4.5"/><circle cx="154" cy="681" r="4"/><circle cx="69" cy="709" r="2.5"/><circle cx="70" cy="722" r="2.5"/><circle cx="77" cy="713" r="2"/><circle cx="75" cy="700" r="2"/><circle cx="80" cy="728" r="2"/>
<circle cx="98" cy="626" r="1.5"/><circle cx="98" cy="633" r="2"/><circle cx="101" cy="645" r="1.5"/><circle cx="148" cy="624" r="2.5"/><circle cx="142" cy="630" r="2"/><circle cx="152" cy="639" r="2"/><circle cx="157" cy="645" r="2"/><circle cx="163" cy="639" r="2.5"/><circle cx="162" cy="630" r="2"/><circle cx="161" cy="617" r="1.5"/><circle cx="155" cy="619" r="2"/><circle cx="152" cy="666" r="1.5"/><circle cx="156" cy="630" r="2"/><circle cx="150" cy="634" r="2"/>
<circle cx="148" cy="530" r="8"/><circle cx="176" cy="529" r="6"/><circle cx="164" cy="533" r="3.5"/><circle cx="170" cy="541" r="4"/><circle cx="158" cy="520" r="3.5"/><circle cx="167" cy="521" r="3"/><circle cx="156" cy="512" r="2.5"/><circle cx="162" cy="515" r="2"/><circle cx="154" cy="544" r="1.5"/><circle cx="104" cy="513" r="3"/><circle cx="113" cy="516" r="2.5"/><circle cx="112" cy="510" r="2"/><circle cx="106" cy="527" r="2"/><circle cx="102" cy="521" r="1.5"/><circle cx="86" cy="511" r="1.5"/><circle cx="84" cy="518" r="2"/><circle cx="160" cy="502" r="2.5"/><circle cx="169" cy="503" r="2.5"/>
<circle cx="165" cy="483" r="4"/><circle cx="175" cy="485" r="2"/><circle cx="123" cy="465" r="2"/><circle cx="121" cy="473" r="2.5"/><circle cx="180" cy="454" r="2.5"/><circle cx="187" cy="456" r="1.5"/>
<circle cx="313" cy="458" r="7"/><circle cx="317" cy="473" r="5"/><circle cx="321" cy="486" r="4"/><circle cx="318" cy="498" r="5"/><circle cx="306" cy="477" r="3.5"/><circle cx="292" cy="493" r="3.5"/><circle cx="298" cy="501" r="2.5"/><circle cx="333" cy="456" r="2.5"/><circle cx="318" cy="440" r="2"/><circle cx="310" cy="445" r="2.5"/>
<circle cx="266" cy="543" r="3"/><circle cx="276" cy="555" r="3.5"/><circle cx="270" cy="550" r="1.5"/><circle cx="262" cy="551" r="2"/><circle cx="267" cy="557" r="2"/><circle cx="273" cy="547" r="2"/><circle cx="271" cy="562" r="1.5"/><circle cx="283" cy="522" r="1.5"/><circle cx="289" cy="524" r="1.5"/>
<circle cx="172" cy="352" r="3.5"/><circle cx="178" cy="359" r="2.5"/><circle cx="205" cy="395" r="4"/><circle cx="197" cy="405" r="5"/><circle cx="214" cy="411" r="4.5"/><circle cx="215" cy="394" r="2.5"/><circle cx="222" cy="396" r="2"/><circle cx="223" cy="380" r="2"/><circle cx="222" cy="386" r="2"/><circle cx="207" cy="417" r="2"/><circle cx="203" cy="423" r="2"/><circle cx="163" cy="378" r="2.5"/><circle cx="158" cy="383" r="1.5"/><circle cx="195" cy="430" r="1.5"/><circle cx="202" cy="433" r="2"/>
<circle cx="362" cy="389" r="7"/><circle cx="347" cy="393" r="4.5"/><circle cx="353" cy="407" r="5"/><circle cx="376" cy="392" r="4"/><circle cx="388" cy="371" r="5.5"/><circle cx="365" cy="374" r="4.5"/><circle cx="388" cy="383" r="3.5"/><circle cx="415" cy="361" r="3.5"/><circle cx="414" cy="371" r="3"/><circle cx="408" cy="355" r="2.5"/><circle cx="322" cy="436" r="3.5"/><circle cx="307" cy="445" r="3.5"/><circle cx="337" cy="438" r="2"/><circle cx="344" cy="438" r="2"/><circle cx="327" cy="443" r="2.5"/><circle cx="343" cy="427" r="2.5"/><circle cx="351" cy="427" r="2.5"/><circle cx="355" cy="420" r="2.5"/>
<circle cx="279" cy="708" r="12"/><circle cx="280" cy="682" r="9"/><circle cx="255" cy="641" r="7"/><circle cx="307" cy="657" r="7"/><circle cx="308" cy="637" r="5.5"/><circle cx="291" cy="649" r="6"/><circle cx="288" cy="622" r="5"/><circle cx="271" cy="611" r="4.5"/><circle cx="299" cy="624" r="3.5"/><circle cx="237" cy="678" r="5.5"/><circle cx="248" cy="686" r="5"/><circle cx="266" cy="691" r="5"/><circle cx="254" cy="697" r="4.5"/><circle cx="298" cy="719" r="6.5"/><circle cx="299" cy="737" r="7"/><circle cx="278" cy="743" r="5"/><circle cx="282" cy="756" r="4"/><circle cx="300" cy="705" r="4"/><circle cx="267" cy="600" r="2.5"/><circle cx="292" cy="598" r="3"/><circle cx="280" cy="591" r="2"/>
</g>
<g id="ring-nodes" class="p">
<circle cx="651" cy="481" r="10"/><circle cx="614" cy="489" r="6"/><circle cx="600" cy="487" r="3.5"/><circle cx="587" cy="492" r="3.5"/><circle cx="596" cy="495" r="2.5"/><circle cx="604" cy="494" r="2.5"/><circle cx="624" cy="493" r="1.5"/><circle cx="637" cy="492" r="3.5"/><circle cx="644" cy="496" r="2"/><circle cx="651" cy="496" r="2"/><circle cx="659" cy="496" r="3.5"/><circle cx="665" cy="486" r="2"/><circle cx="675" cy="486" r="2.5"/><circle cx="673" cy="497" r="4.5"/><circle cx="680" cy="505" r="2"/><circle cx="686" cy="509" r="2"/><circle cx="692" cy="512" r="2"/><circle cx="700" cy="513" r="2"/><circle cx="707" cy="510" r="2"/><circle cx="714" cy="503" r="1.5"/><circle cx="718" cy="514" r="6"/><circle cx="708" cy="518" r="2"/><circle cx="712" cy="527" r="2"/><circle cx="719" cy="532" r="2"/><circle cx="727" cy="524" r="4"/><circle cx="735" cy="532" r="2"/><circle cx="727" cy="534" r="2.5"/><circle cx="743" cy="539" r="6.5"/><circle cx="754" cy="556" r="10"/><circle cx="726" cy="542" r="1.5"/><circle cx="733" cy="547" r="3.5"/><circle cx="737" cy="555" r="2.5"/><circle cx="742" cy="563" r="2"/><circle cx="738" cy="567" r="2"/><circle cx="747" cy="573" r="2"/><circle cx="753" cy="573" r="2.5"/><circle cx="764" cy="577" r="5"/><circle cx="752" cy="587" r="3"/><circle cx="763" cy="592" r="7"/><circle cx="756" cy="596" r="2"/><circle cx="756" cy="607" r="2"/><circle cx="762" cy="604" r="2.5"/><circle cx="775" cy="599" r="3.5"/><circle cx="767" cy="612" r="4.5"/><circle cx="773" cy="627" r="6"/><circle cx="757" cy="615" r="2"/><circle cx="763" cy="620" r="2"/><circle cx="757" cy="623" r="2"/><circle cx="764" cy="630" r="2"/><circle cx="771" cy="640" r="4.5"/><circle cx="761" cy="647" r="5"/><circle cx="753" cy="651" r="2"/><circle cx="759" cy="657" r="2.5"/><circle cx="767" cy="657" r="3.5"/><circle cx="751" cy="663" r="2"/><circle cx="756" cy="672" r="3.5"/><circle cx="750" cy="680" r="2"/><circle cx="749" cy="689" r="4.5"/><circle cx="742" cy="693" r="2"/><circle cx="742" cy="702" r="4"/><circle cx="735" cy="698" r="2"/><circle cx="736" cy="712" r="4.5"/><circle cx="728" cy="707" r="2"/><circle cx="728" cy="717" r="2"/><circle cx="720" cy="717" r="2"/><circle cx="725" cy="723" r="2"/><circle cx="718" cy="723" r="2"/><circle cx="713" cy="727" r="2"/><circle cx="706" cy="736" r="6"/><circle cx="697" cy="738" r="2"/><circle cx="689" cy="742" r="2"/><circle cx="702" cy="753" r="7.5"/><circle cx="695" cy="751" r="2"/><circle cx="686" cy="750" r="2"/><circle cx="680" cy="764" r="7"/><circle cx="662" cy="773" r="8"/><circle cx="645" cy="772" r="4.5"/><circle cx="631" cy="769" r="5"/><circle cx="620" cy="780" r="2"/><circle cx="605" cy="775" r="4"/><circle cx="590" cy="764" r="5"/><circle cx="576" cy="760" r="5"/><circle cx="563" cy="763" r="5"/><circle cx="553" cy="752" r="5"/><circle cx="540" cy="745" r="4"/><circle cx="549" cy="739" r="4"/><circle cx="558" cy="746" r="3.5"/><circle cx="577" cy="758" r="3"/><circle cx="585" cy="753" r="2"/><circle cx="598" cy="756" r="2.5"/><circle cx="605" cy="758" r="2"/><circle cx="533" cy="731" r="2"/><circle cx="529" cy="721" r="3.5"/><circle cx="521" cy="730" r="5"/><circle cx="517" cy="708" r="3"/><circle cx="516" cy="718" r="4"/><circle cx="508" cy="700" r="2"/><circle cx="503" cy="694" r="2"/><circle cx="499" cy="685" r="4"/><circle cx="490" cy="683" r="2"/><circle cx="489" cy="673" r="5"/><circle cx="492" cy="660" r="4.5"/><circle cx="492" cy="649" r="2.5"/><circle cx="482" cy="643" r="4.5"/><circle cx="487" cy="632" r="5"/><circle cx="494" cy="601" r="1.5"/><circle cx="489" cy="594" r="3.5"/><circle cx="485" cy="586" r="2"/><circle cx="492" cy="576" r="4"/><circle cx="502" cy="570" r="3"/><circle cx="497" cy="561" r="3"/><circle cx="504" cy="554" r="3"/><circle cx="508" cy="543" r="6"/><circle cx="519" cy="535" r="2"/><circle cx="525" cy="528" r="2.5"/><circle cx="542" cy="521" r="2"/><circle cx="548" cy="511" r="6"/><circle cx="562" cy="504" r="5.5"/><circle cx="571" cy="497" r="2"/><circle cx="578" cy="502" r="2"/><circle cx="585" cy="498" r="2"/><circle cx="490" cy="612" r="4"/><circle cx="495" cy="620" r="2"/><circle cx="485" cy="622" r="2"/><circle cx="615" cy="768" r="2"/><circle cx="640" cy="762" r="2"/><circle cx="655" cy="763" r="2"/><circle cx="668" cy="760" r="2"/><circle cx="670" cy="752" r="2"/><circle cx="675" cy="745" r="2"/><circle cx="612" cy="763" r="2"/><circle cx="596" cy="766" r="2"/><circle cx="568" cy="752" r="2"/><circle cx="545" cy="730" r="2"/><circle cx="535" cy="738" r="2"/><circle cx="525" cy="710" r="2"/><circle cx="512" cy="690" r="2"/><circle cx="501" cy="676" r="2"/><circle cx="497" cy="640" r="2"/><circle cx="499" cy="625" r="2"/><circle cx="498" cy="610" r="2"/><circle cx="500" cy="590" r="2"/><circle cx="508" cy="580" r="2"/><circle cx="512" cy="563" r="2"/><circle cx="520" cy="550" r="2"/><circle cx="530" cy="540" r="2"/><circle cx="537" cy="528" r="2"/><circle cx="556" cy="517" r="2"/><circle cx="575" cy="510" r="2"/><circle cx="590" cy="505" r="2"/><circle cx="610" cy="501" r="2"/><circle cx="630" cy="500" r="2"/><circle cx="660" cy="504" r="2"/><circle cx="700" cy="522" r="2"/><circle cx="715" cy="537" r="2"/><circle cx="722" cy="548" r="2"/><circle cx="735" cy="560" r="2"/><circle cx="745" cy="583" r="2"/><circle cx="750" cy="600" r="2"/><circle cx="748" cy="620" r="2"/><circle cx="752" cy="640" r="2"/><circle cx="746" cy="660" r="2"/><circle cx="740" cy="678" r="2"/><circle cx="733" cy="690" r="2"/><circle cx="722" cy="706" r="2"/><circle cx="712" cy="716" r="2"/><circle cx="698" cy="726" r="2"/><circle cx="690" cy="733" r="2"/><circle cx="683" cy="738" r="2"/>
</g>
<g id="white-nodes" class="w">
<circle cx="237" cy="288" r="7"/><circle cx="255" cy="289" r="6.5"/><circle cx="228" cy="302" r="5.5"/><circle cx="243" cy="303" r="5"/><circle cx="266" cy="278" r="5"/><circle cx="286" cy="334" r="11"/><circle cx="284" cy="264" r="3.5"/><circle cx="275" cy="268" r="2.5"/><circle cx="275" cy="259" r="2.5"/>
<circle cx="330" cy="319" r="5"/><circle cx="340" cy="325" r="2.5"/><circle cx="347" cy="336" r="6"/><circle cx="361" cy="339" r="5"/><circle cx="329" cy="346" r="7.5"/><circle cx="316" cy="357" r="4"/><circle cx="339" cy="360" r="5"/><circle cx="325" cy="368" r="5"/><circle cx="347" cy="352" r="2.5"/><circle cx="374" cy="326" r="5"/><circle cx="385" cy="320" r="3.5"/><circle cx="308" cy="378" r="4"/>
<circle cx="198" cy="366" r="8"/><circle cx="210" cy="381" r="7"/><circle cx="194" cy="393" r="3.5"/><circle cx="187" cy="400" r="2"/>
<circle cx="277" cy="417" r="8"/><circle cx="289" cy="423" r="2"/><circle cx="264" cy="434" r="7"/><circle cx="279" cy="439" r="3.5"/><circle cx="291" cy="437" r="2"/><circle cx="272" cy="444" r="1.5"/>
<circle cx="410" cy="164" r="2.5"/><circle cx="420" cy="164" r="2.5"/><circle cx="416" cy="171" r="2"/><circle cx="405" cy="175" r="1.5"/><circle cx="395" cy="187" r="2"/>
<circle cx="501" cy="125" r="5"/><circle cx="492" cy="137" r="5.5"/><circle cx="508" cy="139" r="7"/><circle cx="509" cy="208" r="11"/><circle cx="531" cy="213" r="7"/><circle cx="540" cy="230" r="8.5"/><circle cx="524" cy="225" r="3.5"/><circle cx="511" cy="229" r="5.5"/><circle cx="524" cy="240" r="7"/><circle cx="540" cy="250" r="7.5"/><circle cx="475" cy="218" r="7"/><circle cx="481" cy="233" r="5"/><circle cx="484" cy="245" r="3.5"/><circle cx="472" cy="265" r="2.5"/><circle cx="485" cy="280" r="2"/><circle cx="451" cy="251" r="3.5"/><circle cx="444" cy="258" r="2"/><circle cx="453" cy="261" r="2.5"/><circle cx="434" cy="264" r="2"/><circle cx="434" cy="236" r="2"/><circle cx="438" cy="219" r="7"/><circle cx="455" cy="154" r="2"/>
<circle cx="585" cy="192" r="16"/><circle cx="594" cy="225" r="2"/>
<circle cx="631" cy="126" r="3.5"/><circle cx="643" cy="131" r="5.5"/><circle cx="619" cy="136" r="6"/><circle cx="653" cy="136" r="3"/>
<circle cx="621" cy="212" r="6.5"/><circle cx="633" cy="204" r="5"/><circle cx="646" cy="202" r="5"/><circle cx="624" cy="229" r="2"/><circle cx="619" cy="236" r="3.5"/><circle cx="626" cy="244" r="4"/><circle cx="642" cy="232" r="3"/>
<circle cx="676" cy="226" r="3.5"/><circle cx="676" cy="235" r="3"/><circle cx="699" cy="231" r="2"/><circle cx="696" cy="248" r="2"/>
<circle cx="706" cy="198" r="8"/><circle cx="709" cy="215" r="5"/><circle cx="713" cy="140" r="7.5"/><circle cx="720" cy="126" r="4.5"/><circle cx="729" cy="144" r="5"/><circle cx="726" cy="133" r="2.5"/><circle cx="740" cy="208" r="11"/><circle cx="740" cy="231" r="7.5"/><circle cx="729" cy="222" r="3.5"/><circle cx="765" cy="256" r="6"/><circle cx="761" cy="267" r="2"/><circle cx="762" cy="137" r="5.5"/><circle cx="751" cy="140" r="3"/><circle cx="757" cy="149" r="4"/><circle cx="767" cy="148" r="2"/>
<circle cx="561" cy="372" r="26"/><circle cx="626" cy="380" r="20"/><circle cx="692" cy="389" r="17"/><circle cx="660" cy="389" r="9"/><circle cx="643" cy="406" r="5.5"/><circle cx="652" cy="421" r="4"/><circle cx="656" cy="432" r="4.5"/><circle cx="699" cy="432" r="19"/><circle cx="738" cy="447" r="15"/><circle cx="528" cy="453" r="45"/><circle cx="615" cy="437" r="29"/><circle cx="496" cy="397" r="8"/><circle cx="511" cy="397" r="2.5"/><circle cx="523" cy="389" r="8"/><circle cx="578" cy="410" r="9"/>
<circle cx="890" cy="212" r="2"/><circle cx="850" cy="276" r="2.5"/><circle cx="835" cy="291" r="2.5"/><circle cx="812" cy="295" r="6"/><circle cx="827" cy="301" r="6"/><circle cx="835" cy="313" r="4.5"/><circle cx="801" cy="283" r="2.5"/><circle cx="878" cy="323" r="2.5"/><circle cx="897" cy="330" r="2.5"/><circle cx="920" cy="305" r="10"/><circle cx="918" cy="346" r="7"/><circle cx="905" cy="359" r="3.5"/><circle cx="919" cy="360" r="3.5"/><circle cx="1000" cy="403" r="16"/>
<circle cx="226" cy="503" r="4"/><circle cx="250" cy="477" r="3"/><circle cx="286" cy="463" r="3.5"/><circle cx="276" cy="464" r="1.5"/><circle cx="149" cy="478" r="2"/><circle cx="129" cy="525" r="7.5"/><circle cx="135" cy="512" r="2.5"/><circle cx="142" cy="518" r="3"/><circle cx="135" cy="537" r="1.5"/><circle cx="95" cy="517" r="1.5"/><circle cx="127" cy="630" r="2"/><circle cx="137" cy="641" r="3"/>
<circle cx="206" cy="535" r="10"/><circle cx="226" cy="549" r="10"/><circle cx="246" cy="548" r="6.5"/><circle cx="225" cy="532" r="3"/><circle cx="239" cy="538" r="2.5"/><circle cx="230" cy="520" r="3"/>
<circle cx="389" cy="574" r="30"/><circle cx="342" cy="615" r="21"/><circle cx="382" cy="691" r="50"/><circle cx="425" cy="518" r="10"/>
<circle cx="246" cy="609" r="8.5"/><circle cx="261" cy="623" r="8"/><circle cx="243" cy="629" r="6.5"/><circle cx="225" cy="639" r="5.5"/><circle cx="228" cy="654" r="5.5"/><circle cx="218" cy="648" r="2"/><circle cx="231" cy="612" r="2.5"/><circle cx="235" cy="620" r="2"/><circle cx="222" cy="627" r="2.5"/><circle cx="230" cy="627" r="2.5"/><circle cx="205" cy="668" r="15.5"/><circle cx="226" cy="695" r="10"/><circle cx="243" cy="711" r="9"/><circle cx="178" cy="688" r="6"/><circle cx="201" cy="692" r="4"/><circle cx="211" cy="689" r="2"/><circle cx="193" cy="686" r="2"/><circle cx="191" cy="714" r="10.5"/><circle cx="220" cy="744" r="24"/><circle cx="262" cy="754" r="10"/><circle cx="251" cy="727" r="4.5"/><circle cx="263" cy="721" r="4"/><circle cx="261" cy="734" r="3"/><circle cx="253" cy="739" r="3"/><circle cx="270" cy="729" r="2"/><circle cx="228" cy="713" r="2"/><circle cx="225" cy="680" r="2"/><circle cx="226" cy="672" r="2"/>
<circle cx="127" cy="737" r="5.5"/><circle cx="144" cy="736" r="7.5"/><circle cx="133" cy="752" r="6"/><circle cx="148" cy="764" r="8.5"/><circle cx="134" cy="763" r="2"/><circle cx="135" cy="771" r="2"/>
<circle cx="86" cy="724" r="4"/><circle cx="121" cy="690" r="3.5"/><circle cx="128" cy="699" r="3.5"/><circle cx="119" cy="715" r="3.5"/><circle cx="90" cy="733" r="1.5"/><circle cx="83" cy="708" r="1.5"/><circle cx="80" cy="716" r="1.5"/><circle cx="126" cy="722" r="1.5"/><circle cx="134" cy="722" r="1.5"/><circle cx="129" cy="715" r="1.5"/><circle cx="124" cy="707" r="1.5"/><circle cx="133" cy="708" r="1.5"/>
<circle cx="408" cy="759" r="10"/><circle cx="269" cy="816" r="2.5"/><circle cx="260" cy="820" r="2"/>
<circle cx="810" cy="516" r="13"/><circle cx="821" cy="539" r="4"/><circle cx="812" cy="549" r="4"/><circle cx="817" cy="578" r="10"/><circle cx="835" cy="579" r="4.5"/><circle cx="830" cy="592" r="5"/><circle cx="844" cy="589" r="4.5"/><circle cx="869" cy="631" r="7.5"/><circle cx="847" cy="639" r="4.5"/><circle cx="807" cy="652" r="18"/><circle cx="841" cy="659" r="8"/><circle cx="830" cy="683" r="14"/><circle cx="841" cy="753" r="43"/>
<circle cx="1004" cy="531" r="9.5"/><circle cx="1017" cy="542" r="3"/><circle cx="1028" cy="537" r="2.5"/><circle cx="1028" cy="547" r="4"/><circle cx="1015" cy="552" r="3.5"/><circle cx="1004" cy="549" r="4"/><circle cx="976" cy="467" r="3"/><circle cx="986" cy="466" r="3.5"/><circle cx="983" cy="482" r="3.5"/><circle cx="976" cy="475" r="1.5"/><circle cx="990" cy="475" r="2"/><circle cx="1067" cy="545" r="4.5"/><circle cx="1114" cy="526" r="2.5"/><circle cx="1119" cy="532" r="1.5"/><circle cx="1126" cy="535" r="2.5"/><circle cx="1119" cy="539" r="1.5"/><circle cx="1112" cy="535" r="1.5"/>
<circle cx="1007" cy="630" r="3.5"/><circle cx="1014" cy="623" r="2.5"/><circle cx="1019" cy="631" r="2"/><circle cx="1028" cy="633" r="2.5"/><circle cx="1038" cy="636" r="3.5"/><circle cx="1007" cy="643" r="4"/><circle cx="1016" cy="643" r="2"/><circle cx="1022" cy="637" r="2"/><circle cx="1023" cy="653" r="5"/><circle cx="1011" cy="652" r="2"/><circle cx="1036" cy="650" r="2.5"/><circle cx="1002" cy="695" r="3.5"/><circle cx="1005" cy="687" r="1.5"/><circle cx="1011" cy="692" r="2"/><circle cx="1016" cy="729" r="9.5"/><circle cx="1033" cy="734" r="3.5"/><circle cx="1099" cy="751" r="4"/><circle cx="1109" cy="754" r="1.5"/><circle cx="962" cy="814" r="6"/><circle cx="977" cy="809" r="5"/><circle cx="994" cy="809" r="7.5"/>
<circle cx="226" cy="836" r="10"/><circle cx="178" cy="849" r="9"/><circle cx="188" cy="868" r="7.5"/><circle cx="204" cy="880" r="7"/><circle cx="172" cy="866" r="4"/><circle cx="165" cy="858" r="2.5"/><circle cx="277" cy="832" r="8"/><circle cx="292" cy="849" r="5"/><circle cx="303" cy="842" r="3.5"/><circle cx="260" cy="821" r="2"/>
<circle cx="321" cy="899" r="10.5"/><circle cx="343" cy="892" r="8"/><circle cx="331" cy="869" r="2"/><circle cx="331" cy="877" r="2"/><circle cx="325" cy="884" r="1.5"/><circle cx="331" cy="886" r="1.5"/><circle cx="314" cy="916" r="3.5"/><circle cx="326" cy="918" r="4"/><circle cx="337" cy="905" r="2"/><circle cx="345" cy="906" r="1.5"/><circle cx="334" cy="911" r="2"/><circle cx="358" cy="901" r="2"/>
<circle cx="256" cy="959" r="3.5"/><circle cx="249" cy="969" r="3.5"/><circle cx="258" cy="968" r="1.5"/><circle cx="332" cy="1032" r="3.5"/><circle cx="366" cy="984" r="5"/><circle cx="385" cy="947" r="1.5"/><circle cx="391" cy="951" r="1.5"/>
<circle cx="412" cy="944" r="6"/><circle cx="420" cy="959" r="7"/><circle cx="407" cy="958" r="2.5"/><circle cx="416" cy="972" r="2.5"/><circle cx="422" cy="979" r="2.5"/><circle cx="426" cy="986" r="2"/><circle cx="422" cy="997" r="5"/>
<circle cx="509" cy="848" r="19"/><circle cx="562" cy="850" r="8"/><circle cx="576" cy="831" r="6.5"/><circle cx="593" cy="847" r="12"/><circle cx="629" cy="823" r="9"/><circle cx="655" cy="838" r="16"/><circle cx="448" cy="978" r="12"/><circle cx="505" cy="978" r="7"/><circle cx="512" cy="1035" r="8.5"/><circle cx="569" cy="1028" r="8"/><circle cx="566" cy="1053" r="13"/><circle cx="596" cy="1031" r="4"/><circle cx="590" cy="1115" r="5.5"/><circle cx="555" cy="1119" r="6.5"/><circle cx="643" cy="992" r="5"/><circle cx="661" cy="988" r="8.5"/><circle cx="643" cy="1007" r="6"/><circle cx="659" cy="1005" r="3.5"/><circle cx="685" cy="1008" r="17"/><circle cx="699" cy="983" r="6.5"/><circle cx="725" cy="1012" r="3"/><circle cx="800" cy="955" r="8"/><circle cx="748" cy="990" r="1.5"/><circle cx="764" cy="986" r="2"/><circle cx="775" cy="981" r="1.5"/><circle cx="778" cy="988" r="2"/><circle cx="762" cy="1010" r="2"/><circle cx="477" cy="1022" r="2"/><circle cx="520" cy="1008" r="2.5"/><circle cx="516" cy="1015" r="2"/><circle cx="520" cy="1001" r="1.5"/><circle cx="535" cy="993" r="1.5"/><circle cx="541" cy="995" r="1.5"/><circle cx="560" cy="1017" r="2"/><circle cx="488" cy="1104" r="2"/><circle cx="496" cy="1105" r="2"/><circle cx="491" cy="1111" r="2"/><circle cx="433" cy="995" r="1.5"/>
<circle cx="981" cy="843" r="22"/><circle cx="940" cy="828" r="7"/><circle cx="933" cy="844" r="4.5"/><circle cx="947" cy="849" r="5"/><circle cx="953" cy="823" r="2.5"/><circle cx="953" cy="832" r="2"/><circle cx="951" cy="839" r="2"/><circle cx="954" cy="857" r="1.5"/><circle cx="925" cy="868" r="7.5"/><circle cx="934" cy="881" r="4"/><circle cx="922" cy="892" r="7.5"/><circle cx="951" cy="889" r="7.5"/><circle cx="913" cy="861" r="2.5"/><circle cx="1049" cy="872" r="6.5"/><circle cx="1055" cy="886" r="3.5"/><circle cx="847" cy="919" r="7"/><circle cx="846" cy="941" r="2.5"/><circle cx="875" cy="936" r="1.5"/><circle cx="902" cy="912" r="2.5"/><circle cx="920" cy="947" r="5.5"/><circle cx="842" cy="981" r="5"/><circle cx="816" cy="984" r="3"/><circle cx="807" cy="967" r="1.5"/><circle cx="881" cy="1045" r="4.5"/><circle cx="860" cy="1067" r="3"/><circle cx="1008" cy="928" r="4"/><circle cx="1021" cy="939" r="9.5"/><circle cx="1006" cy="936" r="1.5"/><circle cx="1048" cy="960" r="2.5"/><circle cx="963" cy="993" r="2.5"/>
<circle cx="466" cy="480" r="12"/><circle cx="439" cy="464" r="13"/><circle cx="463" cy="457" r="7"/><circle cx="482" cy="494" r="5"/><circle cx="491" cy="508" r="7"/><circle cx="499" cy="525" r="8"/><circle cx="486" cy="541" r="7"/><circle cx="466" cy="538" r="8"/><circle cx="446" cy="516" r="8"/><circle cx="438" cy="547" r="17"/><circle cx="463" cy="555" r="5"/><circle cx="456" cy="582" r="17"/><circle cx="475" cy="562" r="4"/><circle cx="478" cy="611" r="12"/><circle cx="453" cy="616" r="9"/><circle cx="462" cy="637" r="9"/><circle cx="441" cy="643" r="4.5"/><circle cx="421" cy="631" r="9"/><circle cx="402" cy="623" r="8"/><circle cx="432" cy="572" r="3.5"/><circle cx="455" cy="653" r="2.5"/><circle cx="470" cy="700" r="8"/><circle cx="455" cy="702" r="3"/><circle cx="488" cy="706" r="5"/><circle cx="466" cy="755" r="37"/><circle cx="508" cy="728" r="4"/><circle cx="515" cy="738" r="3"/><circle cx="522" cy="777" r="9"/><circle cx="532" cy="749" r="11"/><circle cx="547" cy="791" r="13"/><circle cx="556" cy="816" r="8"/><circle cx="575" cy="801" r="11"/><circle cx="490" cy="812" r="14"/><circle cx="438" cy="809" r="12"/><circle cx="612" cy="788" r="12"/><circle cx="627" cy="800" r="3"/><circle cx="642" cy="787" r="2.5"/><circle cx="669" cy="801" r="16"/><circle cx="694" cy="788" r="7"/><circle cx="691" cy="814" r="4.5"/><circle cx="694" cy="802" r="2.5"/><circle cx="685" cy="775" r="3"/><circle cx="724" cy="812" r="14"/><circle cx="717" cy="766" r="7"/><circle cx="734" cy="771" r="7"/><circle cx="749" cy="784" r="9"/><circle cx="770" cy="787" r="8"/><circle cx="726" cy="740" r="10"/><circle cx="745" cy="748" r="5"/><circle cx="753" cy="762" r="9"/><circle cx="762" cy="741" r="10"/><circle cx="778" cy="767" r="11"/><circle cx="782" cy="746" r="5"/><circle cx="757" cy="723" r="4"/><circle cx="771" cy="723" r="6"/><circle cx="758" cy="711" r="5"/><circle cx="772" cy="687" r="15"/><circle cx="790" cy="677" r="4"/><circle cx="783" cy="666" r="3.5"/><circle cx="780" cy="651" r="4"/><circle cx="797" cy="620" r="9"/><circle cx="785" cy="633" r="3"/><circle cx="781" cy="610" r="7"/><circle cx="790" cy="600" r="3"/><circle cx="781" cy="584" r="9"/><circle cx="770" cy="566" r="5"/><circle cx="785" cy="549" r="5"/><circle cx="770" cy="524" r="6"/><circle cx="787" cy="512" r="3"/><circle cx="742" cy="522" r="8"/><circle cx="760" cy="510" r="6"/><circle cx="767" cy="496" r="4"/><circle cx="780" cy="485" r="8"/><circle cx="735" cy="492" r="16"/><circle cx="697" cy="490" r="15"/><circle cx="674" cy="463" r="14"/><circle cx="711" cy="458" r="3.5"/><circle cx="775" cy="459" r="15"/><circle cx="587" cy="466" r="3.5"/><circle cx="578" cy="476" r="3"/><circle cx="563" cy="480" r="2.5"/><circle cx="645" cy="465" r="3.5"/><circle cx="629" cy="479" r="7.5"/><circle cx="605" cy="476" r="4"/><circle cx="657" cy="474" r="3"/><circle cx="690" cy="466" r="3"/><circle cx="710" cy="470" r="3"/>
</g>
<g id="hub"><circle class="w" cx="624" cy="626" r="120"/></g>
</svg>
